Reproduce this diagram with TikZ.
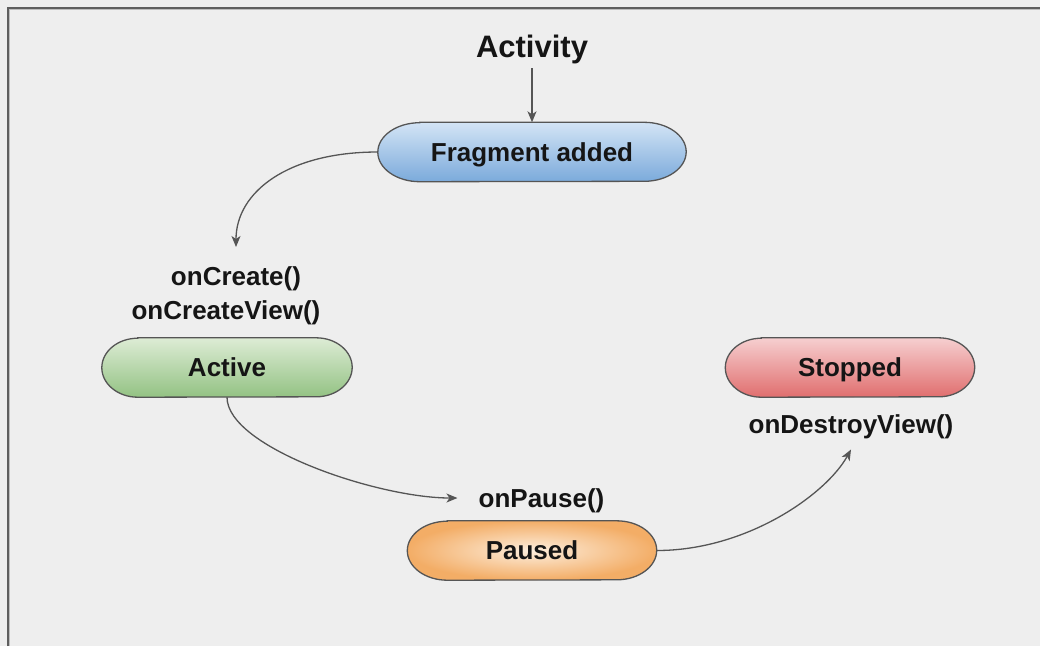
\documentclass[tikz,border=0pt]{standalone}
\usepackage{fontspec}
\setmainfont{Liberation Sans}
\usetikzlibrary{arrows.meta,backgrounds}
\definecolor{bg}{HTML}{EEEEEE}
\definecolor{txt}{HTML}{151515}
\definecolor{edge}{HTML}{555555}
\definecolor{framedark}{HTML}{5E5E5E}
\definecolor{framelight}{HTML}{BDBDBD}
\definecolor{fragtop}{HTML}{D3E4F5}
\definecolor{fragbot}{HTML}{7BAADB}
\definecolor{acttop}{HTML}{DDECD5}
\definecolor{actbot}{HTML}{93C283}
\definecolor{stoptop}{HTML}{F6CFD0}
\definecolor{stopbot}{HTML}{E06E6E}
\definecolor{pauin}{HTML}{FDEEDD}
\definecolor{pauout}{HTML}{F3AD66}
\newcommand\pillpath[3]{%
  \path[#3] ([xshift=#2]#1.north west) -- ([xshift=-#2]#1.north east)
    arc[start angle=90,end angle=-90,x radius=#2,y radius=29.5pt]
    -- ([xshift=#2]#1.south west)
    arc[start angle=270,end angle=90,x radius=#2,y radius=29.5pt] -- cycle;}
\begin{document}
\begin{tikzpicture}[x=1pt,y=1pt,
  lbl/.style={font=\bfseries\fontsize{26}{30}\selectfont, text=txt, inner sep=0pt,
    text height=18.6pt, text depth=0pt},
  stbox/.style={lbl, minimum height=59pt},
  pillborder/.style={draw=edge, line width=1.3pt},
  conn/.style={draw=edge, line width=1.3pt, -{Stealth[length=11pt,width=9pt,inset=3pt]}},
]
\useasboundingbox (0,0) rectangle (1040,-646);
% nodes
\node[lbl, font=\bfseries\fontsize{31}{36}\selectfont, text height=22pt] (act) at (532,-46) {Activity};
\node[stbox, minimum width=308pt] (frag) at (532,-152) {Fragment added};
\node[lbl] (oncreate) at (236,-276) {onCreate()};
\node[lbl] (oncreateview) at (226,-310.5) {onCreateView()};
\node[stbox, minimum width=250pt] (active) at (227,-367.5) {Active};
\node[lbl] (onpause) at (541.5,-498) {onPause()};
\node[stbox, minimum width=249pt] (paused) at (532,-550.5) {Paused};
\node[stbox, minimum width=249pt] (stopped) at (850,-367.5) {Stopped};
\node[lbl] (ondestroy) at (851,-424) {onDestroyView()};
% background & shapes
\begin{scope}[on background layer]
  \fill[bg] (0,0) rectangle (1040,-646);
  \draw[framedark, line width=2.3pt] (7.8,-646) -- (7.8,-7.8) -- (1040,-7.8);
  \draw[framelight, line width=1pt] (9.5,-646) -- (9.5,-9.5) -- (1040,-9.5);
  \pillpath{frag}{42pt}{pillborder, top color=fragtop, bottom color=fragbot}
  \pillpath{active}{36pt}{pillborder, top color=acttop, bottom color=actbot}
  \pillpath{paused}{40pt}{pillborder, inner color=pauin, outer color=pauout}
  \pillpath{stopped}{36pt}{pillborder, top color=stoptop, bottom color=stopbot}
\end{scope}
% connectors
\draw[conn, shorten <=11pt] (act.south) -- (frag.north);
\draw[conn] (frag.west) .. controls +(-90,0) and +(0,55) .. ([yshift=19.5pt]oncreate.north);
\draw[conn] (active.south) .. controls +(0,-50) and +(-80,0) .. ([xshift=-21pt]onpause.west);
\draw[conn] (paused.east) .. controls +(90,0) and +(-25,-45) .. ([yshift=-16pt]ondestroy.south);
\end{tikzpicture}
\end{document}
